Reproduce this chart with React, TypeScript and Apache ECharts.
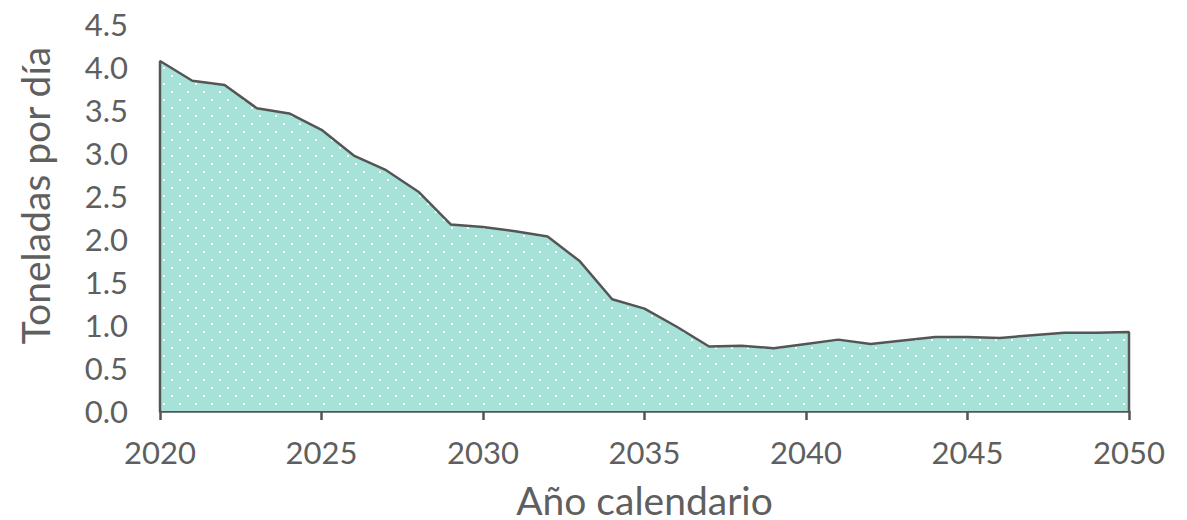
import React, { useEffect, useRef } from "react";
import * as echarts from "echarts";

const years = [2020, 2021, 2022, 2023, 2024, 2025, 2026, 2027, 2028, 2029, 2030, 2031, 2032, 2033, 2034, 2035, 2036, 2037, 2038, 2039, 2040, 2041, 2042, 2043, 2044, 2045, 2046, 2047, 2048, 2049, 2050];
const tonnes = [4.07, 3.84, 3.79, 3.52, 3.46, 3.27, 2.97, 2.8, 2.55, 2.17, 2.14, 2.09, 2.03, 1.74, 1.3, 1.19, 0.98, 0.75, 0.76, 0.73, 0.78, 0.83, 0.78, 0.82, 0.86, 0.86, 0.85, 0.88, 0.91, 0.91, 0.92];
const xTitle = "Año calendario";
const yTitle = "Toneladas por día";

function makePattern() {
  const c = document.createElement("canvas");
  c.width = 16;
  c.height = 16;
  const ctx = c.getContext("2d")!;
  ctx.fillStyle = "#a7e2d8";
  ctx.fillRect(0, 0, 16, 16);
  ctx.fillStyle = "#ffffff";
  ctx.fillRect(3, 3, 2, 2);
  ctx.fillRect(11, 11, 2, 2);
  return c;
}

export default function App() {
  const ref = useRef<HTMLDivElement>(null);
  useEffect(() => {
    document.body.style.margin = "0";
    const chart = echarts.init(ref.current!, null, { renderer: "svg" });
    const pts: [number, number][] = years.map((y, i) => [y, tonnes[i]]);
    const data = [[years[0], 0], ...pts, [years[years.length - 1], 0]];
    const font = "Lato, 'Noto Sans', sans-serif";
    chart.setOption({
      animation: false,
      grid: { left: 160, right: 58, top: 24, bottom: 109, containLabel: false, outerBoundsMode: "none" },
      xAxis: {
        type: "value",
        min: 2020,
        max: 2050,
        interval: 5,
        name: xTitle,
        nameLocation: "middle",
        nameGap: 69,
        nameTextStyle: { color: "#5f5f5f", fontSize: 39, fontFamily: font, lineHeight: 39 },
        axisLine: { show: true, lineStyle: { color: "#555555", width: 2.5 } },
        axisTick: { show: true, length: 9, lineStyle: { color: "#555555", width: 2.5 } },
        axisLabel: { color: "#5f5f5f", fontSize: 31, fontFamily: font, margin: 25, formatter: (v: number) => String(v) },
        splitLine: { show: false },
      },
      yAxis: {
        type: "value",
        min: 0,
        max: 4.5,
        interval: 0.5,
        name: yTitle,
        nameLocation: "middle",
        nameGap: 106,
        nameRotate: 90,
        nameTextStyle: { color: "#5f5f5f", fontSize: 39, fontFamily: font, padding: [0, 0, 0, 44] },
        axisLine: { show: false },
        axisTick: { show: false },
        axisLabel: { color: "#5f5f5f", fontSize: 31, fontFamily: font, margin: 32, formatter: (v: number) => v.toFixed(1) },
        splitLine: { show: false },
      },
      series: [
        {
          type: "line",
          data,
          symbol: "none",
          lineStyle: { color: "#555555", width: 2.5 },
          areaStyle: { color: { image: makePattern(), repeat: "repeat" }, opacity: 1 },
        },
      ],
    });
    return () => chart.dispose();
  }, []);
  return <div ref={ref} style={{ width: 1187, height: 520 }} />;
}
